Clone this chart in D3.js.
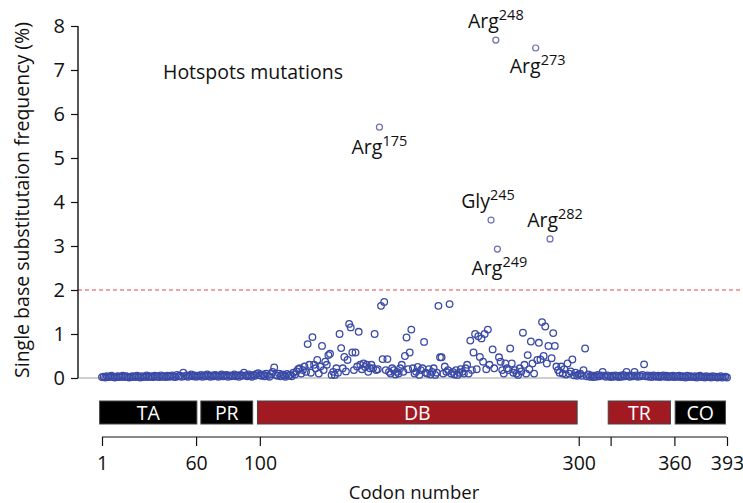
<!DOCTYPE html>
<html>
<head>
<meta charset="utf-8">
<script src="https://cdn.jsdelivr.net/npm/d3@7"></script>
<style>
  body { margin: 0; background: #fff; }
  text { font-family: "Open Sans", "Noto Sans", sans-serif; }
</style>
</head>
<body>
<svg width="743" height="503"></svg>
<script>
// frequency (%) for codons 1..393
var freq = [
  0.02,0.03,0.01,0.04,0.02,0.03,0.05,0.02,0.01,0.03,0.04,0.02,0.03,0.05,0.02,0.04,0.03,0.01,0.02,0.04,
  0.03,0.02,0.05,0.03,0.01,0.04,0.02,0.03,0.06,0.02,0.04,0.03,0.02,0.05,0.03,0.04,0.02,0.06,0.03,0.04,
  0.02,0.05,0.03,0.04,0.06,0.03,0.02,0.07,0.04,0.05,0.03,0.12,0.04,0.06,0.03,0.05,0.08,0.04,0.06,0.03,
  0.05,0.04,0.07,0.03,0.06,0.04,0.08,0.05,0.03,0.06,0.04,0.07,0.05,0.03,0.06,0.08,0.04,0.05,0.07,0.03,
  0.06,0.04,0.05,0.08,0.04,0.06,0.03,0.07,0.05,0.12,0.06,0.04,0.08,0.05,0.03,0.07,0.05,0.09,0.11,0.06,
  0.05,0.08,0.04,0.10,0.06,0.03,0.09,0.14,0.24,0.07,0.05,0.10,0.04,0.08,0.06,0.03,0.09,0.05,0.07,0.04,
  0.12,0.08,0.15,0.20,0.22,0.10,0.18,0.26,0.14,0.77,0.30,0.12,0.93,0.30,0.22,0.41,0.10,0.26,0.73,0.18,
  0.37,0.30,0.52,0.55,0.07,0.14,0.07,0.22,0.12,1.00,0.68,0.22,0.48,0.15,0.41,1.23,1.15,0.58,0.18,0.58,
  0.26,1.05,0.30,0.20,0.33,0.25,0.30,0.14,0.22,0.30,0.22,1.00,0.18,0.20,5.70,1.64,0.43,1.73,0.18,0.43,
  0.14,0.10,0.22,0.18,0.08,0.14,0.10,0.22,0.30,0.14,0.50,0.92,0.20,0.58,1.10,0.22,0.10,0.14,0.25,0.07,
  0.18,0.22,0.82,0.12,0.10,0.20,0.08,0.14,0.22,0.07,0.12,1.64,0.47,0.47,0.10,0.26,0.14,0.18,1.68,0.10,
  0.14,0.08,0.18,0.07,0.12,0.20,0.14,0.10,0.22,0.30,0.10,0.85,0.18,0.58,1.00,0.20,0.95,0.48,0.90,0.37,
  1.00,0.20,1.10,0.30,3.59,0.65,0.22,7.68,2.93,0.47,0.37,0.18,0.10,0.33,0.22,0.18,0.67,0.33,0.12,0.18,
  0.10,0.07,0.22,0.15,1.03,0.30,0.10,0.52,0.20,0.83,0.33,0.10,7.50,0.41,0.80,0.42,1.27,0.50,1.17,0.33,
  0.73,3.16,0.45,1.02,0.73,0.26,0.18,0.12,0.26,0.10,0.20,0.08,0.33,0.10,0.15,0.42,0.06,0.12,0.05,0.08,
  0.10,0.05,0.18,0.67,0.04,0.08,0.03,0.06,0.02,0.05,0.03,0.07,0.04,0.06,0.14,0.05,0.03,0.06,0.04,0.02,
  0.05,0.03,0.06,0.04,0.02,0.05,0.03,0.07,0.04,0.14,0.05,0.03,0.06,0.04,0.14,0.06,0.03,0.05,0.04,0.07,
  0.31,0.04,0.06,0.03,0.05,0.02,0.06,0.04,0.03,0.05,0.02,0.04,0.06,0.03,0.05,0.02,0.04,0.03,0.05,0.02,
  0.04,0.03,0.05,0.02,0.04,0.03,0.01,0.05,0.02,0.04,0.03,0.02,0.04,0.01,0.03,0.05,0.02,0.03,0.01,0.04,
  0.02,0.03,0.01,0.04,0.02,0.03,0.01,0.02,0.04,0.01,0.02,0.03,0.01
];

// labelled hotspots
var hotNames = ["Arg", "Arg", "Arg", "Gly", "Arg", "Arg"];
var hotCodons = [175, 248, 273, 245, 282, 249];
var hotDx = [0, 0, 2, -3, 5, 2];
var hotDy = [27, -12, 25, -12, -12, 26];

// protein domains
var domNames = ["TA", "PR", "DB", "TR", "CO"];
var domStart = [-0.5, 63, 98.5, 318.5, 360.5];
var domEnd = [60.5, 95.5, 299, 357.5, 392];
var domColors = ["#000000", "#000000", "#a11a22", "#a11a22", "#000000"];

var xTicks = [1, 60, 100, 300, 320, 360, 393];
var xTickLabels = ["1", "60", "100", "300", "", "360", "393"];
var yTicks = [0, 1, 2, 3, 4, 5, 6, 7, 8];
var threshold = 2;

var svg = d3.select("svg");

var x = d3.scaleLinear().domain([1, 393]).range([102, 727]);
var y = d3.scaleLinear().domain([0, 8]).range([378, 26]);

var points = freq.map(function(v, i) { return [i + 1, v]; });

// grey zero line
svg.append("line")
    .attr("x1", 78).attr("x2", 730)
    .attr("y1", y(0)).attr("y2", y(0))
    .style("stroke", "#cfcfcf")
    .style("stroke-width", 2);

// threshold
svg.append("line")
    .attr("x1", 78).attr("x2", 740)
    .attr("y1", y(threshold)).attr("y2", y(threshold))
    .style("stroke", "#e8464c")
    .style("stroke-width", 1.2)
    .style("stroke-dasharray", "4,3");

// y axis
var gy = svg.append("g")
    .attr("transform", "translate(78,0)")
    .call(d3.axisLeft(y).tickValues(yTicks).tickSize(7).tickPadding(6).tickFormat(d3.format("d")));
gy.select(".domain").attr("d", "M0," + y(8) + "V" + y(0)).style("stroke", "#111").style("stroke-width", 1.4);
gy.selectAll(".tick line").style("stroke", "#111").style("stroke-width", 1.2);
gy.selectAll(".tick text")
    .attr("fill", "#111")
    .style("font-size", "20px");

svg.append("text")
    .attr("transform", "rotate(-90)")
    .attr("x", -200)
    .attr("y", 29)
    .attr("text-anchor", "middle")
    .attr("fill", "#111")
    .style("font-size", "19.5px")
    .text("Single base substitutaion frequency (%)");

// points
svg.append("g")
    .selectAll("circle")
    .data(points.filter(function(d) { return hotCodons.indexOf(d[0]) < 0; }))
    .enter()
    .append("circle")
    .attr("cx", function(d) { return x(d[0]); })
    .attr("cy", function(d) { return y(d[1]); })
    .attr("r", 3.3)
    .style("fill", "none")
    .style("stroke", "#3a4aa6")
    .style("stroke-width", 1.3);

svg.append("g")
    .selectAll("circle")
    .data(hotCodons)
    .enter()
    .append("circle")
    .attr("cx", function(d) { return x(d); })
    .attr("cy", function(d) { return y(freq[d - 1]); })
    .attr("r", 3)
    .style("fill", "none")
    .style("stroke", "#6d6fb0")
    .style("stroke-width", 1.2);

// hotspot labels
var lab = svg.append("g")
    .selectAll("text")
    .data(hotCodons)
    .enter()
    .append("text")
    .attr("x", function(d, i) { return x(d) + hotDx[i]; })
    .attr("y", function(d, i) { return y(freq[d - 1]) + hotDy[i]; })
    .attr("text-anchor", "middle")
    .attr("fill", "#111")
    .style("font-size", "19.5px");
lab.append("tspan").text(function(d, i) { return hotNames[i]; });
lab.append("tspan")
    .attr("dy", -8)
    .style("font-size", "14.5px")
    .text(function(d) { return d; });

svg.append("text")
    .attr("x", 163)
    .attr("y", 79)
    .attr("fill", "#111")
    .style("font-size", "19.5px")
    .text("Hotspots mutations");

// domain boxes
var dom = svg.append("g")
    .selectAll("g")
    .data(domNames)
    .enter()
    .append("g");
dom.append("rect")
    .attr("x", function(d, i) { return x(domStart[i]); })
    .attr("y", 401)
    .attr("width", function(d, i) { return x(domEnd[i]) - x(domStart[i]); })
    .attr("height", 23)
    .style("fill", function(d, i) { return domColors[i]; })
    .style("stroke", "#444")
    .style("stroke-width", 1);
dom.append("text")
    .attr("x", function(d, i) { return (x(domStart[i]) + x(domEnd[i])) / 2; })
    .attr("y", 420)
    .attr("text-anchor", "middle")
    .attr("fill", "#fff")
    .style("font-size", "19.5px")
    .text(function(d) { return d; });

// x axis
var gx = svg.append("g")
    .attr("transform", "translate(0,437)")
    .call(d3.axisBottom(x).tickValues(xTicks).tickSize(9).tickPadding(10)
        .tickFormat(function(d, i) { return xTickLabels[i]; }));
gx.select(".domain").attr("d", "M" + x(1) + ",0H" + x(393)).style("stroke", "#111").style("stroke-width", 1.2);
gx.selectAll(".tick line").style("stroke", "#111").style("stroke-width", 1.2);
gx.selectAll(".tick text")
    .attr("fill", "#111")
    .style("font-size", "19.5px");

svg.append("text")
    .attr("x", 414)
    .attr("y", 499)
    .attr("text-anchor", "middle")
    .attr("fill", "#111")
    .style("font-size", "18.5px")
    .text("Codon number");
</script>
</body>
</html>
